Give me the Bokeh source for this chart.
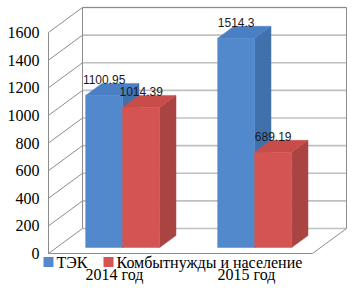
from bokeh.plotting import figure
from bokeh.models import Range1d
from bokeh.embed import file_html
from bokeh.resources import INLINE
from bokeh.core.properties import value

# ---- data ----
CATEGORIES = ["2014 год", "2015 год"]
SERIES = ["ТЭК", "Комбытнужды и население"]
TEK = [1100.95, 1514.3]
KOMBYT = [1014.39, 689.19]
TEK_LABELS = ["1100.95", "1514.3"]
KOMBYT_LABELS = ["1014.39", "689.19"]
TICKS = [0, 200, 400, 600, 800, 1000, 1200, 1400, 1600]
TICK_LABELS = [str(t) for t in TICKS]

# ---- layout constants ----
W, H = 353, 288
LEFT = 48                      # pixel position of the front value axis
PX_PER_CAT = 132.0
ZERO_PX = 35.0                 # pixels from bottom to the value 0
UPP = 1600.0 / 221.0           # value units per pixel
XPP = 1.0 / PX_PER_CAT         # category units per pixel
WALL_DX = 34 * XPP
WALL_DY = 25 * UPP
BAR_W = 37 * XPP
D_FRONT = 0.24
D_BACK = 0.72
N = len(CATEGORIES)
SERIF = value("Liberation Serif")
GRID = "#8c8c8c"

p = figure(width=W, height=H, output_backend="svg", toolbar_location=None,
           x_axis_location=None, y_axis_location=None,
           min_border_left=0, min_border_right=0,
           min_border_top=0, min_border_bottom=0,
           x_range=Range1d(-LEFT * XPP, (W - LEFT) * XPP),
           y_range=Range1d(-ZERO_PX * UPP, (H - ZERO_PX) * UPP))
p.xgrid.visible = False
p.ygrid.visible = False
p.outline_line_color = None
p.background_fill_color = "white"
p.border_fill_color = "white"

top = TICKS[-1]
# back wall gridlines
p.segment(x0=[WALL_DX] * len(TICKS), y0=[t + WALL_DY for t in TICKS],
          x1=[N + WALL_DX] * len(TICKS), y1=[t + WALL_DY for t in TICKS],
          line_color="#c0c0c0", line_width=1.6)
# left wall lines
p.segment(x0=[0] * len(TICKS), y0=TICKS,
          x1=[WALL_DX] * len(TICKS), y1=[t + WALL_DY for t in TICKS],
          line_color=GRID, line_width=1)
# wall outlines + value axis line
p.segment(x0=[WALL_DX, N + WALL_DX, WALL_DX, 0, N, 0],
          y0=[WALL_DY, WALL_DY, top + WALL_DY, 0, 0, 0],
          x1=[WALL_DX, N + WALL_DX, N + WALL_DX, N, N + WALL_DX, 0],
          y1=[top + WALL_DY, top + WALL_DY, top + WALL_DY, 0, WALL_DY, top],
          line_color=GRID, line_width=1)

# value axis tick labels
p.text(x=[0] * len(TICKS), y=TICKS, text=TICK_LABELS, x_offset=-9,
       text_align="right", text_baseline="middle", text_font=SERIF,
       text_font_size="16px", text_color="black")

COLORS = {
    0: ("#5289cd", "#4a7fc4", "#4171ac"),
    1: ("#d35450", "#c84c49", "#a94442"),
}
fx, fy = D_FRONT * WALL_DX, D_FRONT * WALL_DY
bx, by = D_BACK * WALL_DX, D_BACK * WALL_DY

label_x, label_y, label_t = [], [], []
for j, (vals, labs) in enumerate([(TEK, TEK_LABELS), (KOMBYT, KOMBYT_LABELS)]):
    fr_xs, fr_ys, tp_xs, tp_ys, sd_xs, sd_ys = [], [], [], [], [], []
    for i, v in enumerate(vals):
        xl = i + 0.5 - BAR_W + j * BAR_W
        xr = xl + BAR_W
        fr_xs.append([xl + fx, xr + fx, xr + fx, xl + fx])
        fr_ys.append([fy, fy, v + fy, v + fy])
        tp_xs.append([xl + fx, xr + fx, xr + bx, xl + bx])
        tp_ys.append([v + fy, v + fy, v + by, v + by])
        sd_xs.append([xr + fx, xr + bx, xr + bx, xr + fx])
        sd_ys.append([fy, by, v + by, v + fy])
        label_x.append((xl + xr) / 2 + fx)
        label_y.append(v + fy + 16 * UPP)
        label_t.append(labs[i])
    cf, ct, cs = COLORS[j]
    p.patches(sd_xs, sd_ys, fill_color=cs, line_color=cs, line_width=0.5)
    p.patches(tp_xs, tp_ys, fill_color=ct, line_color=ct, line_width=0.5)
    p.patches(fr_xs, fr_ys, fill_color=cf, line_color=cf, line_width=0.5)

# data labels
p.text(x=label_x, y=label_y, text=label_t, text_align="center",
       text_baseline="middle", text_font=value("Liberation Sans"),
       text_font_size="12px", text_color="#1a1a1a")

# category labels
p.text(x=[i + 0.5 for i in range(N)], y=[-21 * UPP] * N, text=CATEGORIES,
       text_align="center", text_baseline="middle", text_font=SERIF,
       text_font_size="16px", text_color="black")

# legend (swatches + labels), positioned in pixels
LEG_SWATCH_PX = [48, 108]
LEG_TEXT_PX = [56, 116]
LEG_Y = -8.5 * UPP
p.scatter(x=[(px - LEFT) * XPP for px in LEG_SWATCH_PX], y=[LEG_Y] * 2,
          marker="square", size=10,
          fill_color=[COLORS[0][0], COLORS[1][0]], line_color=None)
p.text(x=[(px - LEFT) * XPP for px in LEG_TEXT_PX], y=[LEG_Y] * 2,
       text=SERIES, text_align="left", text_baseline="middle",
       text_font=SERIF, text_font_size="16px", text_color="black")

open("out.html", "w").write(file_html(p, INLINE))
